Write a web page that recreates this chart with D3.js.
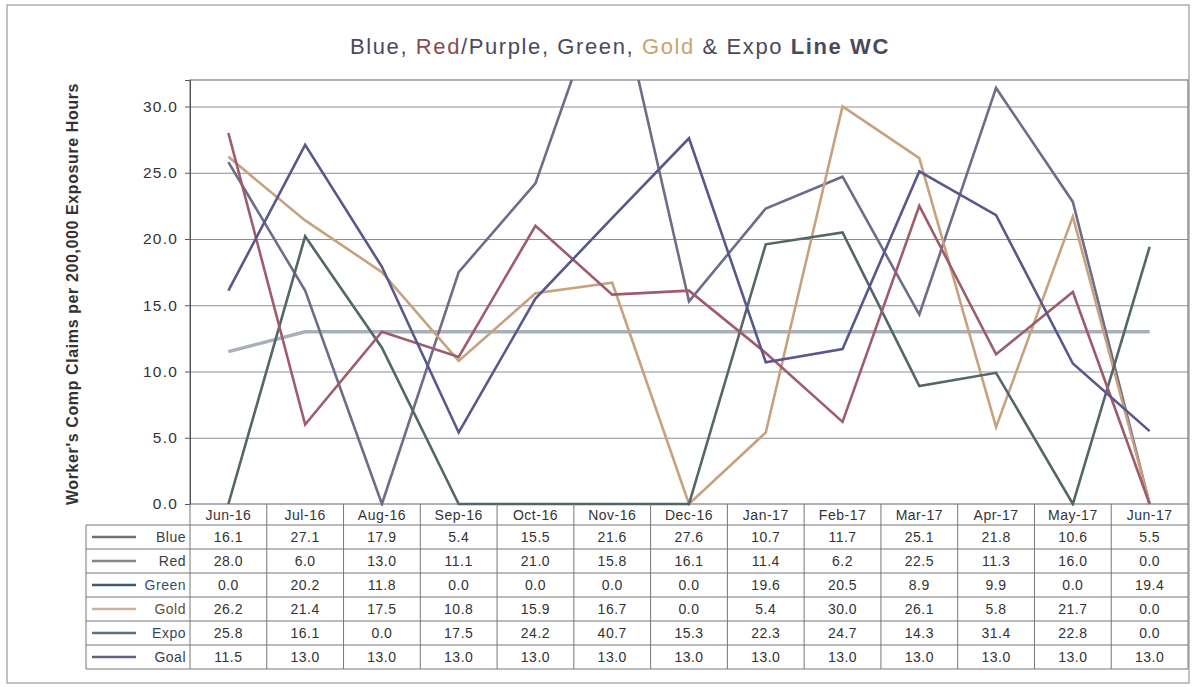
<!DOCTYPE html>
<html>
<head>
<meta charset="utf-8">
<script src="https://cdn.jsdelivr.net/npm/d3@7"></script>
<style>
  html, body { margin: 0; padding: 0; background: #fff; }
  svg { display: block; font-family: "Liberation Sans", Arial, sans-serif; }
</style>
</head>
<body>
<svg id="chart" width="1194" height="687"></svg>
<script>
// ---- data ----
const months = ["Jun-16","Jul-16","Aug-16","Sep-16","Oct-16","Nov-16","Dec-16","Jan-17","Feb-17","Mar-17","Apr-17","May-17","Jun-17"];
const seriesNames = ["Blue","Red","Green","Gold","Expo","Goal"];
const blueVals  = [16.1, 27.1, 17.9, 5.4, 15.5, 21.6, 27.6, 10.7, 11.7, 25.1, 21.8, 10.6, 5.5];
const redVals   = [28.0, 6.0, 13.0, 11.1, 21.0, 15.8, 16.1, 11.4, 6.2, 22.5, 11.3, 16.0, 0.0];
const greenVals = [0.0, 20.2, 11.8, 0.0, 0.0, 0.0, 0.0, 19.6, 20.5, 8.9, 9.9, 0.0, 19.4];
const goldVals  = [26.2, 21.4, 17.5, 10.8, 15.9, 16.7, 0.0, 5.4, 30.0, 26.1, 5.8, 21.7, 0.0];
const expoVals  = [25.8, 16.1, 0.0, 17.5, 24.2, 40.7, 15.3, 22.3, 24.7, 14.3, 31.4, 22.8, 0.0];
const goalVals  = [11.5, 13.0, 13.0, 13.0, 13.0, 13.0, 13.0, 13.0, 13.0, 13.0, 13.0, 13.0, 13.0];
const yTicks = [0, 5, 10, 15, 20, 25, 30];
const yMax = 32;

const seriesValues = [blueVals, redVals, greenVals, goldVals, expoVals, goalVals];
const lineColors = ["#58588a", "#9e5c6c", "#536668", "#c7a27e", "#6e6c88", "#aab0ba"];
const lineWidths = [2.6, 2.6, 2.6, 2.6, 2.6, 3.4];
const legendColors = ["#6e6e78", "#858585", "#3e5a72", "#cbb29c", "#5a7282", "#62627e"];
const labelColors = ["#3c3c4a", "#3c3c4a", "#33506a", "#6a4a2a", "#35485c", "#3c3c4a"];

const svg = d3.select("#chart");
const L = 190, R = 1188, T = 80, B = 504;

// outer frame
svg.append("rect").attr("x", 7).attr("y", 5).attr("width", 1182).attr("height", 678)
  .attr("fill", "none").attr("stroke", "#9a9a9a").attr("stroke-width", 1.2);

// title
const title = svg.append("text").attr("x", 620).attr("y", 54).attr("text-anchor", "middle")
  .attr("font-size", 22).attr("letter-spacing", 1.6).attr("fill", "#4a4a5c");
title.append("tspan").text("Blue, ");
title.append("tspan").attr("fill", "#8e4a4a").text("Red");
title.append("tspan").text("/Purple, Green, ");
title.append("tspan").attr("fill", "#c9a46a").text("Gold");
title.append("tspan").text(" & Expo ");
title.append("tspan").attr("font-weight", "bold").text("Line WC");

const x = d3.scaleBand().domain(months).range([L, R]);
const y = d3.scaleLinear().domain([0, yMax]).range([B, T]);

// gridlines
svg.append("g").attr("transform", `translate(${L},0)`)
  .call(d3.axisLeft(y).tickValues(yTicks.slice(1)).tickSize(-(R - L)).tickFormat(""))
  .call(g => g.select(".domain").remove())
  .call(g => g.selectAll("line").attr("stroke", "#8c8c96").attr("stroke-width", 1.1));

// plot border
svg.append("rect").attr("x", L).attr("y", T).attr("width", R - L).attr("height", B - T)
  .attr("fill", "none").attr("stroke", "#7a7a84").attr("stroke-width", 1.2);

// y axis
svg.append("g").attr("transform", `translate(${L},0)`)
  .call(d3.axisLeft(y).tickValues(yTicks).tickFormat(d3.format(".1f")).tickSize(5).tickPadding(7))
  .call(g => g.select(".domain").attr("stroke", "#555"))
  .call(g => g.selectAll("line").attr("stroke", "#555"))
  .call(g => g.selectAll("text").attr("font-size", 15.5).attr("letter-spacing", 1.2).attr("fill", "#333")
    .attr("font-family", "'Liberation Sans', Arial, sans-serif"));

// y label
svg.append("text").attr("transform", `translate(78,${(T + B) / 2 + 2}) rotate(-90)`)
  .attr("text-anchor", "middle").attr("font-size", 16).attr("letter-spacing", 0.6)
  .attr("font-weight", "bold").attr("fill", "#333")
  .text("Worker's Comp Claims per 200,000 Exposure Hours");

// clip
svg.append("clipPath").attr("id", "plotclip").append("rect")
  .attr("x", L).attr("y", T).attr("width", R - L).attr("height", B - T + 2);

const line = d3.line().x((d, i) => x(months[i]) + x.bandwidth() / 2).y(d => y(d));
const lg = svg.append("g").attr("clip-path", "url(#plotclip)");
const order = [5, 4, 3, 2, 1, 0];
order.forEach(k => {
  lg.append("path").datum(seriesValues[k]).attr("d", line)
    .attr("fill", "none").attr("stroke", lineColors[k]).attr("stroke-width", lineWidths[k])
    .attr("stroke-linejoin", "miter").attr("stroke-linecap", "butt");
});

// data table
const TL = 86, headTop = B, headH = 21, rowH = 24;
const tbl = svg.append("g").attr("font-size", 14).attr("letter-spacing", 0.5).attr("fill", "#333");
months.forEach(m => {
  tbl.append("text").attr("x", x(m) + x.bandwidth() / 2).attr("y", headTop + 16)
    .attr("text-anchor", "middle").text(m);
});
const rowsTop = headTop + headH;
const tableBottom = rowsTop + rowH * seriesNames.length;
const gridColor = "#777";
for (let r = 0; r <= seriesNames.length; r++) {
  tbl.append("line").attr("x1", TL).attr("x2", R).attr("y1", rowsTop + r * rowH).attr("y2", rowsTop + r * rowH)
    .attr("stroke", gridColor).attr("stroke-width", 1);
}
months.forEach((m) => {
  tbl.append("line").attr("x1", x(m)).attr("x2", x(m)).attr("y1", headTop).attr("y2", tableBottom)
    .attr("stroke", gridColor).attr("stroke-width", 1);
});
tbl.append("line").attr("x1", R).attr("x2", R).attr("y1", headTop).attr("y2", tableBottom)
  .attr("stroke", gridColor).attr("stroke-width", 1);
tbl.append("line").attr("x1", TL).attr("x2", TL).attr("y1", rowsTop).attr("y2", tableBottom)
  .attr("stroke", gridColor).attr("stroke-width", 1);

const fmt = d3.format(".1f");
seriesNames.forEach((name, r) => {
  const cy = rowsTop + r * rowH + rowH / 2;
  tbl.append("line").attr("x1", TL + 6).attr("x2", TL + 50).attr("y1", cy).attr("y2", cy)
    .attr("stroke", legendColors[r]).attr("stroke-width", 2.6);
  tbl.append("text").attr("x", L - 4).attr("y", cy + 5).attr("text-anchor", "end")
    .attr("fill", labelColors[r]).text(name);
  seriesValues[r].forEach((v, i) => {
    tbl.append("text").attr("x", x(months[i]) + x.bandwidth() / 2).attr("y", cy + 5)
      .attr("text-anchor", "middle").text(fmt(v));
  });
});
</script>
</body>
</html>
